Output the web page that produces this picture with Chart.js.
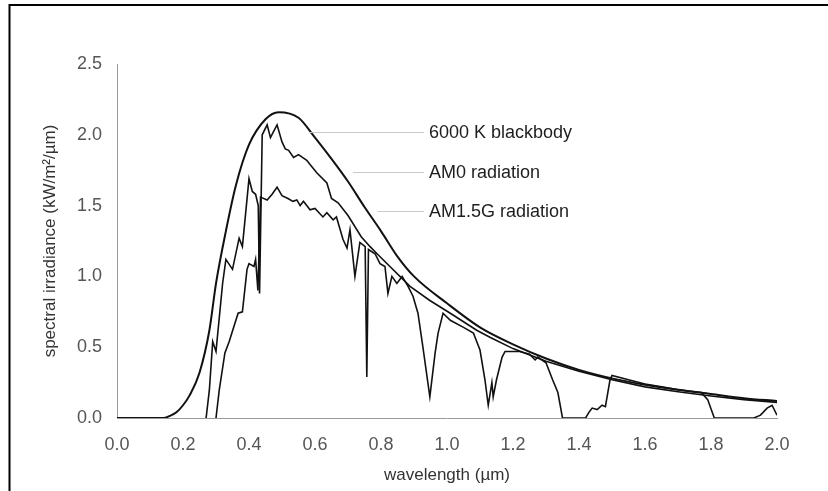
<!DOCTYPE html>
<html>
<head>
<meta charset="utf-8">
<script src="https://cdn.jsdelivr.net/npm/chart.js@4.4.1/dist/chart.umd.min.js"></script>
<style>
html, body { margin: 0; padding: 0; background: #fff; }
</style>
</head>
<body>
<canvas id="spectrum" width="828" height="491"></canvas>
<script>
// values (wavelength in um, irradiance in kW/m2/um)
const bbWave = [0.0, 0.10, 0.14, 0.16, 0.18, 0.20, 0.22, 0.25, 0.28, 0.30, 0.33, 0.36, 0.40, 0.45, 0.49, 0.55, 0.60, 0.65, 0.70, 0.75, 0.80, 0.85, 0.90, 1.0, 1.1, 1.2, 1.3, 1.4, 1.5, 1.6, 1.7, 1.8, 1.9, 2.0]
const bbIrr  = [0, 0, 0, 0.015, 0.04, 0.09, 0.16, 0.32, 0.62, 0.95, 1.32, 1.64, 1.93, 2.11, 2.16, 2.12, 1.98, 1.83, 1.67, 1.49, 1.32, 1.14, 1.00, 0.81, 0.64, 0.52, 0.42, 0.34, 0.28, 0.235, 0.20, 0.17, 0.14, 0.12]

const am0Wave = [0.27, 0.28, 0.29, 0.30, 0.32, 0.33, 0.35, 0.37, 0.38, 0.40, 0.41, 0.42, 0.428, 0.432, 0.44, 0.455, 0.465, 0.485, 0.50, 0.51, 0.52, 0.535, 0.55, 0.575, 0.585, 0.606, 0.636, 0.65, 0.67, 0.70, 0.74, 0.767, 0.788, 0.827, 0.888, 0.948, 1.01, 1.09, 1.13, 1.2, 1.3, 1.4, 1.5, 1.6, 1.7, 1.8, 1.9, 2.0]
const am0Irr  = [0.00, 0.20, 0.54, 0.47, 0.95, 1.12, 1.05, 1.27, 1.21, 1.69, 1.60, 1.58, 1.50, 0.88, 2.00, 2.07, 1.98, 2.07, 1.95, 1.90, 1.89, 1.84, 1.86, 1.82, 1.79, 1.73, 1.66, 1.55, 1.52, 1.43, 1.28, 1.21, 1.16, 1.07, 0.93, 0.83, 0.74, 0.62, 0.57, 0.49, 0.40, 0.33, 0.27, 0.22, 0.185, 0.155, 0.13, 0.11]

const amgWave = [0.30, 0.31, 0.327, 0.34, 0.367, 0.38, 0.394, 0.40, 0.415, 0.42, 0.427, 0.435, 0.455, 0.47, 0.485, 0.50, 0.518, 0.533, 0.545, 0.555, 0.565, 0.585, 0.60, 0.624, 0.636, 0.655, 0.665, 0.685, 0.697, 0.706, 0.721, 0.736, 0.752, 0.757, 0.762, 0.782, 0.797, 0.812, 0.821, 0.833, 0.848, 0.864, 0.882, 0.897, 0.912, 0.927, 0.948, 0.964, 0.973, 0.988, 1.01, 1.05, 1.08, 1.10, 1.115, 1.125, 1.136, 1.14, 1.15, 1.167, 1.176, 1.22, 1.25, 1.267, 1.275, 1.30, 1.32, 1.336, 1.35, 1.42, 1.43, 1.44, 1.455, 1.47, 1.48, 1.494, 1.50, 1.55, 1.60, 1.65, 1.70, 1.77, 1.79, 1.81, 1.93, 1.95, 1.97, 1.985, 2.0]
const amgIrr  = [0.00, 0.20, 0.46, 0.54, 0.74, 0.75, 1.05, 1.09, 1.07, 1.12, 0.90, 1.56, 1.54, 1.58, 1.63, 1.57, 1.55, 1.53, 1.54, 1.50, 1.53, 1.47, 1.48, 1.42, 1.45, 1.40, 1.42, 1.26, 1.20, 1.33, 1.00, 1.24, 1.21, 0.29, 1.19, 1.16, 1.09, 1.07, 0.88, 1.00, 0.95, 1.00, 0.93, 0.86, 0.74, 0.50, 0.15, 0.46, 0.60, 0.74, 0.69, 0.64, 0.60, 0.48, 0.27, 0.09, 0.25, 0.15, 0.27, 0.43, 0.47, 0.47, 0.45, 0.41, 0.43, 0.39, 0.27, 0.18, 0.00, 0.00, 0.04, 0.07, 0.06, 0.09, 0.08, 0.27, 0.30, 0.27, 0.24, 0.22, 0.20, 0.18, 0.13, 0.00, 0.00, 0.02, 0.07, 0.09, 0.02]

const xTicks = [0.0, 0.2, 0.4, 0.6, 0.8, 1.0, 1.2, 1.4, 1.6, 1.8, 2.0]
const yTicks = [0.0, 0.5, 1.0, 1.5, 2.0, 2.5]

const seriesNames = ['6000 K blackbody', 'AM0 radiation', 'AM1.5G radiation']
const nameLevel = [2.02, 1.74, 1.46]      // irradiance where each name sits
const leaderFrom = [0.585, 0.715, 0.79]   // wavelength where each leader line starts
const leaderTo = 0.93

const pts = (xs, ys) => xs.map((x, i) => ({x: x, y: ys[i]}))

const FONT = "'Liberation Sans', Arial, sans-serif"

const frame = {
    id: 'frame',
    beforeDraw(chart) {
        const c = chart.ctx
        c.save()
        c.fillStyle = '#fff'
        c.fillRect(0, 0, chart.width, chart.height)
        c.strokeStyle = '#000'
        c.lineWidth = 2
        c.beginPath()
        c.moveTo(9.5, chart.height)
        c.lineTo(9.5, 5)
        c.lineTo(chart.width, 5)
        c.stroke()
        c.restore()
    }
}

const names = {
    id: 'names',
    afterDatasetsDraw(chart) {
        const c = chart.ctx
        const sx = chart.scales.x, sy = chart.scales.y
        c.save()
        c.font = '18px ' + FONT
        c.textBaseline = 'middle'
        c.fillStyle = '#1e1e1e'
        for (let i = 0; i < seriesNames.length; i++) {
            const y = Math.round(sy.getPixelForValue(nameLevel[i])) + 0.5
            c.strokeStyle = '#c8c8c8'
            c.lineWidth = 1
            c.beginPath()
            c.moveTo(sx.getPixelForValue(leaderFrom[i]), y)
            c.lineTo(sx.getPixelForValue(leaderTo), y)
            c.stroke()
            c.fillText(seriesNames[i], sx.getPixelForValue(leaderTo) + 5, y + 1)
        }
        c.restore()
    }
}

new Chart(document.getElementById('spectrum'), {
    type: 'line',
    data: {
        datasets: [
            {label: seriesNames[0], data: pts(bbWave, bbIrr), borderColor: '#111', borderWidth: 2, cubicInterpolationMode: 'monotone'},
            {label: seriesNames[1], data: pts(am0Wave, am0Irr), borderColor: '#111', borderWidth: 1.6, tension: 0},
            {label: seriesNames[2], data: pts(amgWave, amgIrr), borderColor: '#111', borderWidth: 1.6, tension: 0}
        ]
    },
    options: {
        responsive: false,
        animation: false,
        devicePixelRatio: 1,
        elements: {point: {radius: 0}},
        layout: {padding: {left: 0, right: 51, top: 64, bottom: 0}},
        plugins: {legend: {display: false}, tooltip: {enabled: false}},
        scales: {
            x: {
                type: 'linear', min: 0, max: 2,
                afterBuildTicks: s => { s.ticks = xTicks.map(v => ({value: v})) },
                afterFit: s => { s.height = 73 },
                grid: {display: false, drawTicks: false},
                border: {display: true, color: '#9a9a9a', width: 1},
                ticks: {padding: 16, color: '#555', font: {family: FONT, size: 18}, callback: v => v.toFixed(1)},
                title: {display: true, text: 'wavelength (µm)', color: '#333', font: {family: FONT, size: 17}, padding: {top: 0, bottom: 5}}
            },
            y: {
                type: 'linear', min: 0, max: 2.5,
                afterBuildTicks: s => { s.ticks = yTicks.map(v => ({value: v})) },
                afterFit: s => { s.width = 117 },
                grid: {display: false, drawTicks: false},
                border: {display: true, color: '#9a9a9a', width: 1},
                ticks: {padding: 15, color: '#555', font: {family: FONT, size: 18}, callback: v => v.toFixed(1)},
                title: {display: true, text: 'spectral irradiance (kW/m²/µm)', color: '#333', font: {family: FONT, size: 17}, padding: {top: 40, bottom: 0}}
            }
        }
    },
    plugins: [frame, names]
})
</script>
</body>
</html>
